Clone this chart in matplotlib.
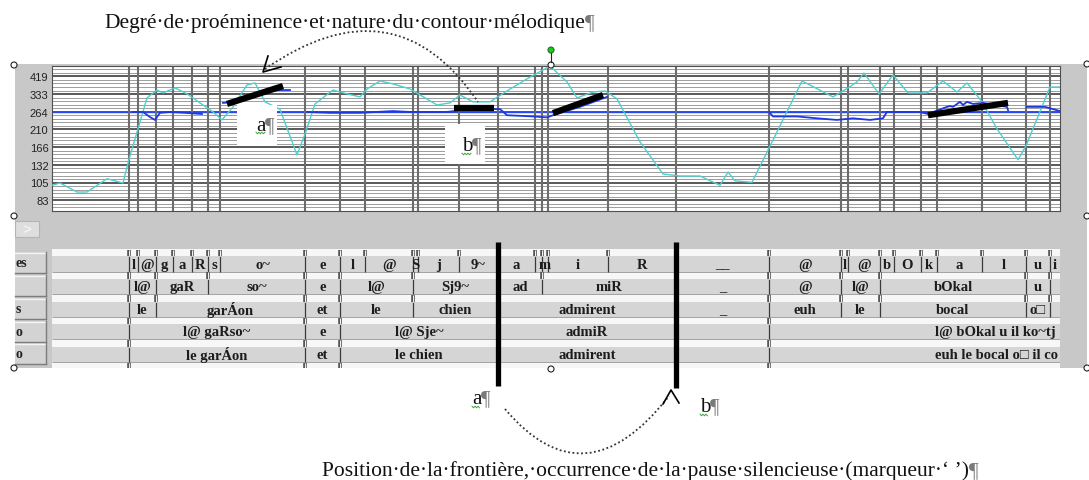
"""
Praat-like editor screenshot: f0 panel with stylised contour + annotation tiers
"""

import numpy as np
import matplotlib.pyplot as plt
import matplotlib.transforms as mtransforms
from matplotlib.patches import Rectangle, Circle, PathPatch
from matplotlib.path import Path
from matplotlib.ticker import NullLocator

plt.rcParams["font.family"] = ["Liberation Sans", "DejaVu Sans"]
SERIF = ["Liberation Serif", "DejaVu Serif", "DejaVu Sans"]

# --- data -------------------------------------------------------------------
T_END = 5.04  # visible part of the signal [s]

pitch_ticks = [83, 105, 132, 166, 210, 264, 333, 419]
ref_pitch = 264

# raw f0 (cyan)
f0_t = [0, 0.04, 0.125, 0.175, 0.275, 0.355, 0.385, 0.43, 0.475, 0.525,
        0.555, 0.615, 0.675, 0.755, 0.805, 0.85, 0.905, 0.975, 1.015, 1.065,
        1.14, 1.225, 1.265, 1.315, 1.405, 1.475, 1.54, 1.575, 1.64, 1.705,
        1.79, 1.925, 1.99, 2.04, 2.105, 2.19, 2.275, 2.375, 2.49, 2.575,
        2.625, 2.705, 2.765, 2.825, 2.94, 3.055, 3.14, 3.24, 3.34, 3.38,
        3.415, 3.5, 3.585, 3.75, 3.905, 3.98, 4.025, 4.06, 4.135, 4.205,
        4.28, 4.375, 4.455, 4.525, 4.575, 4.65, 4.725, 4.83, 4.87, 4.99, 5.04]
f0_hz = [101, 104, 92.5, 92.5, 110, 104, 142, 211, 316, 350,
         337, 360, 333, 288, 263, 237, 281, 374, 384, 300,
         272, 150, 197, 292, 350, 333, 320, 355, 394, 379,
         355, 288, 296, 328, 300, 300, 346, 405, 479, 389,
         316, 341, 346, 312, 178, 117, 114, 114, 101, 120,
         107, 105, 164, 394, 320, 360, 389, 437, 333, 426,
         337, 337, 394, 341, 384, 300, 211, 141, 169, 364, 364]

# smoothed f0 (blue), nan separates the stretches
nan = np.nan
smooth_t = [0.405, 0.455, 0.49, 0.515, 0.54, 0.59, 0.665, 0.75, nan,
            0.855, 0.925, nan,
            1.13, 1.19, nan,
            1.275, 1.39, 1.54, 1.705, 1.79, 1.975, 2.09, 2.21, 2.24, 2.275,
            2.405, 2.475, 2.505, 2.64, 2.775, nan,
            3.585, 3.605, 3.725, 3.825, 3.925, 4.005, 4.09, 4.155, 4.175, 4.34,
            4.38, 4.475, 4.49, 4.505, 4.54, 4.555, 4.575, 4.605, 4.655, 4.775,
            4.78, nan,
            4.875, 4.965, 5.04]
smooth_hz = [263, 263, 246, 237, 260, 263, 260, 256, nan,
             296, 300, nan,
             350, 350, nan,
             263, 260, 260, 266, 263, 263, 273, 273, 273, 252,
             248, 245, 252, 281, 320, nan,
             263, 248, 248, 242, 237, 242, 237, 242, 263, 263,
             256, 281, 284, 281, 300, 288, 300, 292, 296, 281,
             269, nan,
             281, 281, 266]

# stylised contour (thick black segments)
styl_t = [(0.875, 1.155), (2.01, 2.21), (2.505, 2.755), (4.38, 4.78)]
styl_hz = [(292, 369), (277, 277), (259, 328), (252, 296)]

# annotation tiers
phone_bounds = [0.385, 0.43, 0.52, 0.605, 0.70, 0.78, 0.84, 1.265, 1.44,
                1.565, 1.805, 1.83, 2.035, 2.23, 2.415, 2.45, 2.48, 2.78,
                3.12, 3.585, 3.945, 3.98, 4.14, 4.21, 4.345, 4.425, 4.65,
                4.87, 4.99]
phone_labels = ["", "l", "@", "g", "a", "R", "s", "o~", "e", "l", "@", "S",
                "j", "9~", "a", "", "m", "i", "R", "__", "@", "l", "@", "b",
                "O", "k", "a", "l", "u", "i"]

syll_bounds = [0.385, 0.52, 0.78, 1.265, 1.44, 1.805, 2.23, 2.45, 3.12,
               3.585, 3.945, 4.14, 4.87, 4.99]
syll_labels = ["", "l@", "gaR", "so~", "e", "l@", "Sj9~", "ad", "miR", "_",
               "@", "l@", "bOkal", "u", ""]

word_bounds = [0.385, 0.52, 1.265, 1.44, 1.805, 2.23, 3.12, 3.585, 3.945,
               4.14, 4.87, 4.99]
word_labels = ["", "le", "garÁon", "et", "le", "chien", "admirent", "_",
               "euh", "le", "bocal", "o□", ""]

group_bounds = [0.385, 1.265, 1.44, 2.23, 3.12, 3.585]
group_phon = ["", "l@ gaRso~", "e", "l@ Sje~", "admiR", "",
              "l@ bOkal u il ko~tj"]
group_orth = ["", "le garÁon", "et", "le chien", "admirent", "",
              "euh le bocal o□ il co"]

tier_buttons = ["es", "", "s", "o", "o"]

pause_a = 2.23
pause_b = 3.12

# --- layout -----------------------------------------------------------------
W, H = 1089, 481
fig = plt.figure(figsize=(W / 100, H / 100), dpi=100)


def box(x0, y0, x1, y1):
    # pixel box, origin top-left -> figure fraction
    return [x0 / W, 1 - y1 / H, (x1 - x0) / W, (y1 - y0) / H]


def page_axes(z):
    a = fig.add_axes([0, 0, 1, 1], zorder=z)
    a.set_xlim(0, W)
    a.set_ylim(H, 0)
    a.axis("off")
    a.patch.set_visible(False)
    return a


bg = page_axes(0)
ov = page_axes(5)

bg.add_patch(Rectangle((15, 65), 1072, 304, fc="#c8c8c8", ec="none"))

# small ">" button
bg.add_patch(Rectangle((15, 222), 24, 16, fc="#dedede", ec="#b4b4b4", lw=0.8))
bg.text(27, 230, ">", ha="center", va="center", fontsize=11, color="#f7f7f7")

# tier name buttons (cut at the left border of the screenshot)
btn_rows = [(253, 274), (276, 297), (299, 320), (322, 343), (344, 365)]
for (y0, y1), name in zip(btn_rows, tier_buttons):
    bg.add_patch(Rectangle((15, y0), 31, y1 - y0, fc="#d3d3d3", ec="none"))
    bg.plot([15, 46], [y0 + 0.5, y0 + 0.5], color="#f4f4f4", lw=1)
    bg.plot([15, 46], [y1, y1], color="#7c7c7c", lw=1)
    bg.plot([46, 46], [y0, y1], color="#7c7c7c", lw=1)
    bg.text(16, (y0 + y1) / 2, name, ha="left", va="center", fontsize=10,
            fontweight="bold", family=SERIF, color="#222222")

# --- f0 panel ---------------------------------------------------------------
ax = fig.add_axes(box(52, 67, 1060, 212), zorder=2)
ax.set_facecolor("white")
ax.set_yscale("log")
ax.set_xlim(0, T_END)
ax.set_ylim(72.2, 479)

for k in range(-3, 38):
    lev = pitch_ticks[0] * 2 ** (k / 15)
    if k % 5 == 0:
        ax.axhline(lev, color="#2c2c2c", lw=1.1, zorder=1)
    else:
        ax.axhline(lev, color="#9c9c9c", lw=0.7, zorder=1)
ax.axhline(ref_pitch, color="#2848f0", lw=1.0, zorder=2)
ax.vlines(phone_bounds, 0, 1, transform=ax.get_xaxis_transform(),
          colors="#6c6c6c", lw=1.5, zorder=2)

ax.plot(f0_t, f0_hz, color="#4ccfcf", lw=1.0, zorder=3)
ax.plot(smooth_t, smooth_hz, color="#1e38e0", lw=1.3, zorder=4)
for tt, hh in zip(styl_t, styl_hz):
    ax.plot(tt, hh, color="black", lw=4.5, solid_capstyle="butt", zorder=5)

ax.set_yticks(pitch_ticks, labels=[str(v) for v in pitch_ticks])
ax.yaxis.set_minor_locator(NullLocator())
ax.set_xticks([])
ax.tick_params(axis="y", length=0, pad=2.5, labelsize=8, labelcolor="#222222")
for s in ax.spines.values():
    s.set_color("#505050")
    s.set_linewidth(0.8)

# --- tiers ------------------------------------------------------------------
tx = fig.add_axes(box(52, 250, 1060, 369), zorder=2)
tx.set_xlim(0, T_END)
tx.set_ylim(5.27, 0)
tx.axis("off")

WH = 0.33  # white strip height (row units)
tail_offset = 0.83


def marks(bounds, y):
    tx.vlines(bounds, y + 0.04, y + WH, colors="#555555", lw=2.6)
    tx.vlines(bounds, y + 0.04, y + WH, colors="#f7f7f7", lw=0.7)


tiers = [(phone_bounds, phone_labels), (syll_bounds, syll_labels),
         (word_bounds, word_labels), (group_bounds, group_phon),
         (group_bounds, group_orth)]
for i, (bounds, labels) in enumerate(tiers):
    tx.add_patch(Rectangle((0, i), T_END, WH, fc="#f7f7f7", ec="none"))
    tx.add_patch(Rectangle((0, i + WH), T_END, 1 - WH, fc="#d5d5d5", ec="none"))
    tx.hlines(i + 1, 0, T_END, colors="#a2a2a2", lw=0.7)
    tx.vlines(bounds, i + WH, i + 1, colors="#3a3a3a", lw=0.9)
    marks(bounds, i)
    edges = [0] + bounds + [T_END]
    for j, lab in enumerate(labels):
        a, b = edges[j], edges[j + 1]
        if i >= 3 and j == len(labels) - 1:
            # interval runs on past the visible window
            x, ha = a + tail_offset, "left"
        else:
            x, ha = (a + b) / 2, "center"
        tx.text(x, i + WH + (1 - WH) / 2, lab, ha=ha, va="center",
                fontsize=10.5, fontweight="bold", family=SERIF,
                color="#1c1c1c", clip_on=True)
tx.add_patch(Rectangle((0, 5), T_END, 0.27, fc="#f7f7f7", ec="none"))
marks(group_bounds, 5)

# pause boundaries a / b
trans = mtransforms.blended_transform_factory(tx.transData, ov.transData)
ov.plot([pause_a, pause_a], [243, 387], transform=trans, color="black",
        lw=3.8, solid_capstyle="butt")
ov.plot([pause_b, pause_b], [243, 389], transform=trans, color="black",
        lw=3.8, solid_capstyle="butt")


# --- overlay annotations ------------------------------------------------------
def squiggle(x0, x1, y):
    xs = np.arange(x0, x1 + 0.1, 1.5)
    ys = y + np.where(np.arange(len(xs)) % 2 == 0, -0.8, 0.8)
    ov.plot(xs, ys, color="#3aa53a", lw=0.7)


def label(x, y, s, size=15):
    t = ov.text(x, y, s, family=SERIF, fontsize=size, color="#111111",
                va="baseline", ha="left")
    ov.annotate("¶", xy=(1, 0), xycoords=t, va="bottom", ha="left",
                family=SERIF, fontsize=size, color="#7a7a7a")
    return t


def dotted_arc(p0, c, p1):
    path = Path([p0, c, p1], [Path.MOVETO, Path.CURVE3, Path.CURVE3])
    ov.add_patch(PathPatch(path, fc="none", ec="#333333", lw=1.3,
                           ls=(0, (1, 1.4))))


# white boxes with a / b on the f0 panel
ov.add_patch(Rectangle((237, 106), 40, 41, fc="white", ec="none"))
ov.add_patch(Rectangle((445, 125), 40, 40, fc="white", ec="none"))
label(256, 131, "a")
squiggle(256, 265, 134)
label(462, 151, "b")
squiggle(462, 471, 155)

# top: prominence / contour
label(104, 28, "Degré·de·proéminence·et·nature·du·contour·mélodique", 15.5)
dotted_arc((265, 70), (395, -20), (478, 103))
ov.plot([281, 263, 268], [68, 73, 57], color="black", lw=1.2)

# bottom: boundary position / pause
label(472, 404, "a")
squiggle(472, 480, 408)
label(700, 412, "b")
squiggle(700, 708, 416)
dotted_arc((505, 410), (585, 505), (669, 397))
ov.plot([663, 671, 679], [405, 391, 404], color="black", lw=1.2)
label(322, 476, "Position·de·la·frontière,·occurrence·de·la·pause·"
                "silencieuse·(marqueur·‘ ’)", 15.5)

# selection handles
for hx, hy in [(14, 66), (14, 217), (14, 369), (551, 66), (551, 370),
               (1087, 65), (1087, 217), (1087, 369)]:
    ov.add_patch(Circle((hx, hy), 3, fc="white", ec="#222222", lw=0.8))
ov.plot([551, 551], [54, 63], color="#222222", lw=0.8)
ov.add_patch(Circle((551, 51), 3, fc="#18d018", ec="#207020", lw=0.8))

fig.savefig("out.png", dpi=100)
